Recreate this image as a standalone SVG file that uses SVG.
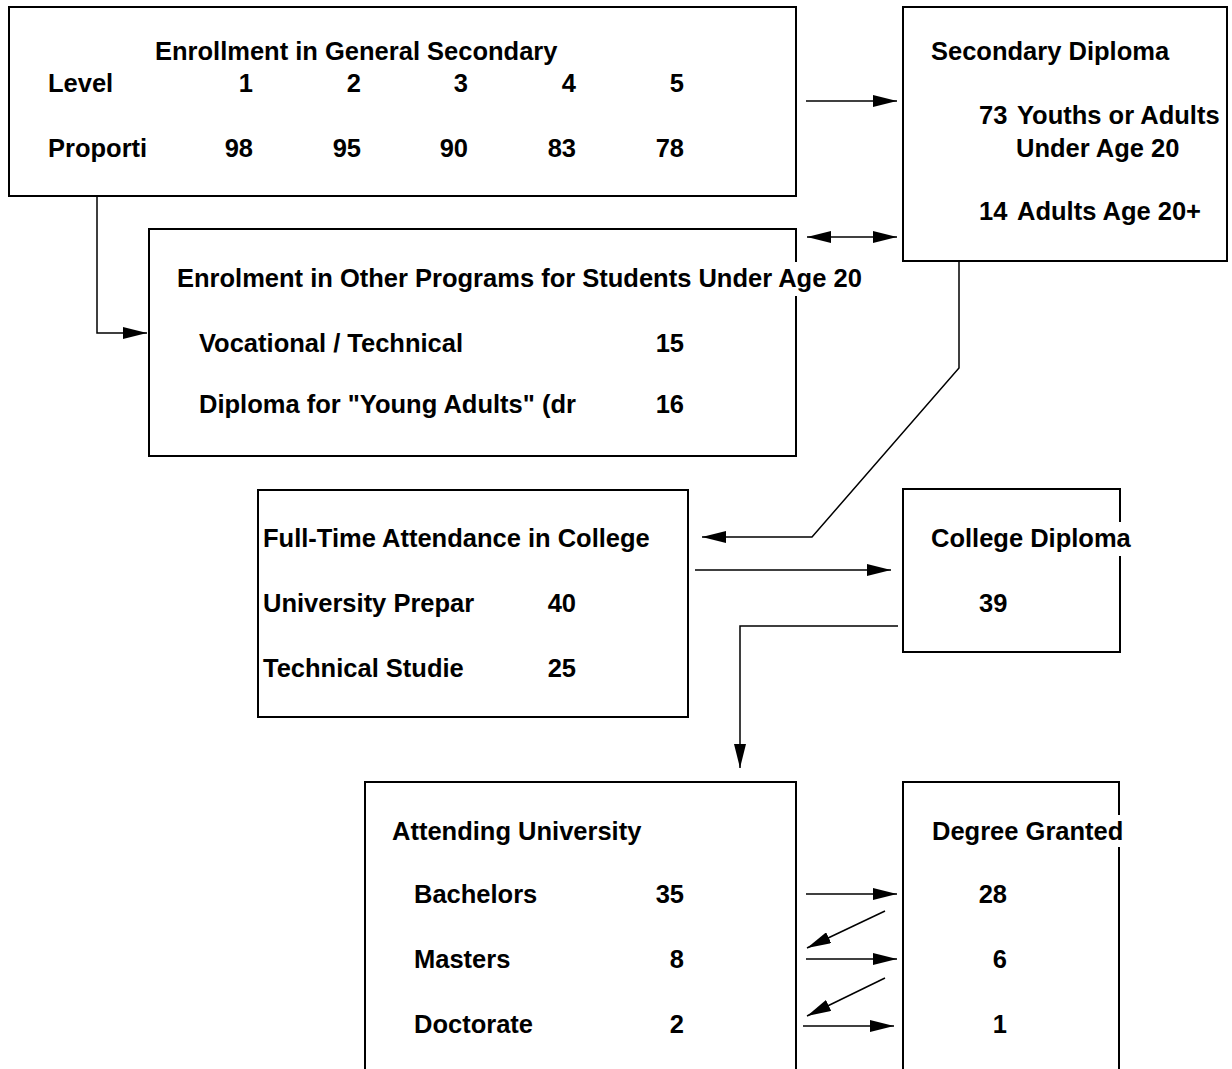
<svg xmlns="http://www.w3.org/2000/svg" width="1232" height="1069" viewBox="0 0 1232 1069">
<style>
.box{fill:none;stroke:#000;stroke-width:2}
.t{font-family:"Liberation Sans",Arial,sans-serif;font-weight:bold;font-size:25.5px;fill:#000}
.e{text-anchor:end}
.c{fill:none;stroke:#000;stroke-width:1.5}
</style>
<defs>
<marker id="ah" markerUnits="userSpaceOnUse" markerWidth="24" markerHeight="12" refX="24" refY="6" orient="auto-start-reverse" viewBox="0 0 24 12">
<path d="M0,0 L24,6 L0,12 z" fill="#000"/>
</marker>
</defs>
<rect width="1232" height="1069" fill="#fff"/>

<g id="connectors">
<line class="c" x1="806" y1="101" x2="897" y2="101" marker-end="url(#ah)"/>
<line class="c" x1="807" y1="237" x2="897" y2="237" marker-start="url(#ah)" marker-end="url(#ah)"/>
<polyline class="c" points="97,196 97,333 147,333" marker-end="url(#ah)"/>
<polyline class="c" points="959,261 959,368 812,537 702,537" marker-end="url(#ah)"/>
<line class="c" x1="695" y1="570" x2="891" y2="570" marker-end="url(#ah)"/>
<polyline class="c" points="898,626 740,626 740,768" marker-end="url(#ah)"/>
<line class="c" x1="806" y1="894" x2="897" y2="894" marker-end="url(#ah)"/>
<line class="c" x1="885" y1="911" x2="807" y2="948" marker-end="url(#ah)"/>
<line class="c" x1="806" y1="959" x2="897" y2="959" marker-end="url(#ah)"/>
<line class="c" x1="885" y1="978" x2="807" y2="1016" marker-end="url(#ah)"/>
<line class="c" x1="803" y1="1026" x2="894" y2="1026" marker-end="url(#ah)"/>
</g>

<g id="general-secondary">
<rect class="box" x="9" y="7" width="787" height="189"/>
<text class="t" x="155" y="60">Enrollment in General Secondary</text>
<text class="t" x="48" y="92">Level</text>
<text class="t e" x="253" y="92">1</text>
<text class="t e" x="361" y="92">2</text>
<text class="t e" x="468" y="92">3</text>
<text class="t e" x="576" y="92">4</text>
<text class="t e" x="684" y="92">5</text>
<text class="t" x="48" y="157">Proporti</text>
<text class="t e" x="253" y="157">98</text>
<text class="t e" x="361" y="157">95</text>
<text class="t e" x="468" y="157">90</text>
<text class="t e" x="576" y="157">83</text>
<text class="t e" x="684" y="157">78</text>
</g>

<g id="secondary-diploma">
<rect class="box" x="903" y="7" width="324" height="254"/>
<text class="t" x="931" y="60">Secondary Diploma</text>
<text class="t" x="979" y="124">73</text>
<text class="t" x="1017" y="124">Youths or Adults</text>
<text class="t" x="1016" y="157">Under Age 20</text>
<text class="t" x="979" y="220">14</text>
<text class="t" x="1017" y="220">Adults Age 20+</text>
</g>

<g id="other-programs">
<path class="box" d="M796,262 V229 H149 V456 H796 V296"/>
<text class="t" x="177" y="287">Enrolment in Other Programs for Students Under Age 20</text>
<text class="t" x="199" y="352">Vocational / Technical</text>
<text class="t e" x="684" y="352">15</text>
<text class="t" x="199" y="413">Diploma for "Young Adults" (dr</text>
<text class="t e" x="684" y="413">16</text>
</g>

<g id="college-attendance">
<rect class="box" x="258" y="490" width="430" height="227"/>
<text class="t" x="263" y="547">Full-Time Attendance in College</text>
<text class="t" x="263" y="612">University Prepar</text>
<text class="t e" x="576" y="612">40</text>
<text class="t" x="263" y="677">Technical Studie</text>
<text class="t e" x="576" y="677">25</text>
</g>

<g id="college-diploma">
<path class="box" d="M1120,522 V489 H903 V652 H1120 V556"/>
<text class="t" x="931" y="547">College Diploma</text>
<text class="t" x="979" y="612">39</text>
</g>

<g id="university">
<path class="box" d="M365,1072 V782 H796 V1072"/>
<text class="t" x="392" y="840">Attending University</text>
<text class="t" x="414" y="903">Bachelors</text>
<text class="t e" x="684" y="903">35</text>
<text class="t" x="414" y="968">Masters</text>
<text class="t e" x="684" y="968">8</text>
<text class="t" x="414" y="1033">Doctorate</text>
<text class="t e" x="684" y="1033">2</text>
</g>

<g id="degree-granted">
<path class="box" d="M1119,815 V782 H903 V1072 M1119,847 V1072"/>
<text class="t" x="932" y="840">Degree Granted</text>
<text class="t e" x="1007" y="903">28</text>
<text class="t e" x="1007" y="968">6</text>
<text class="t e" x="1007" y="1033">1</text>
</g>
</svg>
